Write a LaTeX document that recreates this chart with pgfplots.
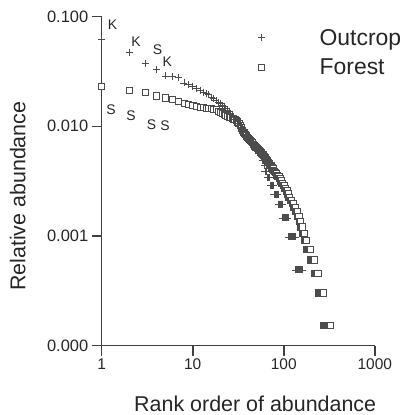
\documentclass[border=0pt]{standalone}
\usepackage{pgfplots}
\pgfplotsset{compat=1.18}
\usepackage{fontspec}
\setmainfont{Liberation Sans}
\begin{document}
\begin{tikzpicture}
\begin{axis}[
  name=main,
  scale only axis,
  width=274bp, height=330bp,
  xmode=log, ymode=log,
  xmin=1, xmax=1000, ymin=1e-4, ymax=0.1,
  axis lines*=left,
  axis line style={line width=1.6bp, black!75, -},
  xtick={1,10,100,1000}, xticklabels={1,10,100,1000},
  ytick={1e-4,1e-3,1e-2,1e-1}, yticklabels={0.000,0.001,0.010,0.100},
  minor tick length=0pt,
  tick align=outside,
  major tick length=10bp,
  tick style={line width=1.6bp, black!75},
  /pgf/number format/assume math mode=true,
  xticklabel style={font=\fontsize{15.5bp}{18bp}\selectfont, black!85},
  yticklabel style={font=\fontsize{16.5bp}{19bp}\selectfont, black!85},
  xlabel={Rank order of abundance},
  ylabel={Relative abundance},
  every axis x label/.style={at={(axis description cs:0.562,-0.177)}, anchor=center, font=\fontsize{21.5bp}{25bp}\selectfont, text=black!85},
  every axis y label/.style={at={(axis description cs:-0.307,0.454)}, rotate=90, anchor=center, font=\fontsize{21.5bp}{25bp}\selectfont, text=black!85},
  clip=false,
  reverse legend,
  legend style={draw=none, fill=none, inner sep=0pt, at={(axis description cs:0.571,0.966)}, anchor=north west,
    font=\fontsize{23bp}{27bp}\selectfont, text=black!85, row sep=10bp,
    nodes={inner sep=1bp},
    /tikz/every odd column/.append style={column sep=54bp}},
  legend cell align=left,
  legend image code/.code={\draw[#1] plot coordinates {(0bp,0bp)};},
]
\addplot[only marks, mark=square*, mark size=3.1bp, draw=black!70, fill=white, line width=0.6bp] coordinates {
(1,0.0232) (2,0.0213) (3,0.0204) (4,0.0190) (5,0.0182) (6,0.0175) (7,0.0169) (8,0.0163) (9,0.0158) (10,0.0155)
(11,0.0152) (12,0.0150) (13,0.0149) (14,0.0147) (15,0.0146) (16,0.0145) (17,0.0144) (18,0.0143) (19,0.0138) (20,0.0135)
(21,0.0132) (22,0.0129) (23,0.0126) (24,0.0124) (25,0.0121) (26,0.0120) (27,0.0118) (28,0.0116) (29,0.0115) (30,0.0113)
(31,0.0110) (32,0.0106) (33,0.0102) (34,0.0097) (35,0.0092) (36,0.0088) (37,0.0086) (38,0.0084) (39,0.0082) (40,0.0080)
(41,0.0078) (42,0.0076) (43,0.0074) (44,0.0073) (45,0.0071) (46,0.0069) (47,0.0067) (48,0.0066) (49,0.0065) (50,0.0064)
(51,0.0063) (52,0.0062) (53,0.0061) (54,0.0060) (55,0.0059) (56,0.0058) (57,0.0057) (58,0.0056) (59,0.0055) (60,0.0054)
(61,0.0053) (62,0.0052) (63,0.0051) (64,0.0050) (65,0.0049) (66,0.0048) (67,0.0047) (68,0.0047) (69,0.0046) (70,0.0045)
(71,0.0044) (72,0.0044) (73,0.0043) (74,0.0042) (75,0.0041) (76,0.0041) (77,0.0040) (78,0.0039) (79,0.0039) (80,0.0038)
(81,0.0038) (82,0.0037) (83,0.0037) (84,0.0036) (85,0.0036) (86,0.0035) (87,0.0035) (88,0.0035)
(89,0.00333) (90,0.00333) (91,0.00333) (92,0.00318) (93,0.00318) (94,0.00318) (95,0.00303) (96,0.00303) (97,0.00303)
(98,0.00288) (99,0.00288) (100,0.00288) (101,0.00288) (102,0.00273) (103,0.00273) (104,0.00273) (105,0.00273)
(106,0.00258) (107,0.00258) (108,0.00258) (109,0.00258) (110,0.00242) (111,0.00242) (112,0.00242)
(113,0.00227) (114,0.00227) (115,0.00227) (116,0.00227)
(117,0.00212) (118,0.00212) (119,0.00212) (120,0.00212) (121,0.00212) (122,0.00212)
(123,0.00197) (124,0.00197) (125,0.00197) (126,0.00197) (127,0.00197) (128,0.00197)
(129,0.00182) (130,0.00182) (131,0.00182) (132,0.00182) (133,0.00182) (134,0.00182)
(135,0.00167) (136,0.00167) (137,0.00167) (138,0.00167) (139,0.00167) (140,0.00167)
(141,0.00152) (142,0.00152) (143,0.00152) (144,0.00152) (145,0.00152) (146,0.00152)
(147,0.00136) (148,0.00136) (149,0.00136) (150,0.00136) (151,0.00136) (152,0.00136) (153,0.00136)
(154,0.00121) (155,0.00121) (156,0.00121) (157,0.00121) (158,0.00121) (159,0.00121) (160,0.00121) (161,0.00121)
(162,0.00106) (163,0.00106) (164,0.00106) (165,0.00106) (166,0.00106) (167,0.00106) (168,0.00106) (169,0.00106)
(170,0.00091) (171,0.00091) (172,0.00091) (173,0.00091) (174,0.00091) (175,0.00091) (176,0.00091) (177,0.00091)
(178,0.000758) (179,0.000758) (180,0.000758) (181,0.000758) (182,0.000758) (183,0.000758) (184,0.000758) (185,0.000758)
(186,0.000758) (187,0.000758) (188,0.000758) (189,0.000758) (190,0.000758) (191,0.000758) (192,0.000758) (193,0.000758) (194,0.000758)
(195,0.000606) (196,0.000606) (197,0.000606) (198,0.000606) (199,0.000606) (200,0.000606) (201,0.000606)
(202,0.000606) (203,0.000606) (204,0.000606) (205,0.000606) (206,0.000606) (207,0.000606) (208,0.000606) (209,0.000606)
(210,0.000606) (211,0.000606) (212,0.000606) (213,0.000606) (214,0.000606) (215,0.000606)
(216,0.000455) (217,0.000455) (218,0.000455) (219,0.000455) (220,0.000455) (221,0.000455) (222,0.000455) (223,0.000455)
(224,0.000455) (225,0.000455) (226,0.000455) (227,0.000455) (228,0.000455) (229,0.000455) (230,0.000455) (231,0.000455)
(232,0.000455) (233,0.000455) (234,0.000455) (235,0.000455) (236,0.000455) (237,0.000455)
(238,0.000303) (239,0.000303) (240,0.000303) (241,0.000303) (242,0.000303) (243,0.000303) (244,0.000303) (245,0.000303)
(246,0.000303) (247,0.000303) (248,0.000303) (249,0.000303) (250,0.000303) (251,0.000303) (252,0.000303) (253,0.000303)
(254,0.000303) (255,0.000303) (256,0.000303) (257,0.000303) (258,0.000303) (259,0.000303) (260,0.000303) (261,0.000303)
(262,0.000303) (263,0.000303) (264,0.000303) (265,0.000303) (266,0.000303) (267,0.000303) (268,0.000303) (269,0.000303)
(270,0.000152) (271,0.000152) (272,0.000152) (273,0.000152) (274,0.000152) (275,0.000152) (276,0.000152) (277,0.000152)
(278,0.000152) (279,0.000152) (280,0.000152) (281,0.000152) (282,0.000152) (283,0.000152) (284,0.000152) (285,0.000152)
(286,0.000152) (287,0.000152) (288,0.000152) (289,0.000152) (290,0.000152) (291,0.000152) (292,0.000152) (293,0.000152)
(294,0.000152) (295,0.000152) (296,0.000152) (297,0.000152) (298,0.000152) (299,0.000152) (300,0.000152)
(302,0.000152) (304,0.000152) (306,0.000152) (308,0.000152) (310,0.000152) (312,0.000152) (314,0.000152) (316,0.000152)
(318,0.000152) (320,0.000152) (322,0.000152) (324,0.000152)
};
\addlegendentry{Forest}
\addplot[only marks, mark=+, mark size=3.5bp, black!70, line width=0.6bp] coordinates {
(1,0.0626) (2,0.0472) (3,0.0377) (4,0.0328) (5,0.0288) (6,0.0283) (7,0.0278) (8,0.0249) (9,0.0240) (10,0.0232)
(11,0.0222) (12,0.0212) (13,0.0205) (14,0.0200) (15,0.0195) (16,0.0185) (17,0.0180) (18,0.0171) (19,0.0166) (20,0.0161)
(21,0.0156) (22,0.0151) (23,0.0146) (24,0.0141) (25,0.0137) (26,0.0132) (27,0.0127) (28,0.0122) (29,0.0117) (30,0.0117)
(31,0.0112) (32,0.0107) (33,0.0102) (34,0.0098) (35,0.0098) (36,0.0093) (37,0.0093) (38,0.0088) (39,0.0088) (40,0.0083)
(41,0.0083) (42,0.0078) (43,0.0078) (44,0.0078) (45,0.0073) (46,0.0073) (47,0.0068) (48,0.0068) (49,0.0068) (50,0.0063)
(51,0.0063) (52,0.0063) (53,0.0059) (54,0.0059) (55,0.0054) (56,0.0054) (57,0.0054) (58,0.0049) (59,0.0049) (60,0.0049)
(61,0.0044) (62,0.0039) (63,0.0039) (64,0.0039) (65,0.0039)
(66,0.0034) (67,0.0034) (68,0.0034) (69,0.0034) (70,0.0034)
(71,0.0029) (72,0.0029) (73,0.0029) (74,0.0029) (75,0.0029) (76,0.0029) (77,0.0029)
(78,0.0024) (79,0.0024) (80,0.0024) (81,0.0024) (82,0.0024) (83,0.0024) (84,0.0024) (85,0.0024) (86,0.0024)
(87,0.00195) (88,0.00195) (89,0.00195) (90,0.00195) (91,0.00195) (92,0.00195) (93,0.00195) (94,0.00195) (95,0.00195) (96,0.00195)
(97,0.00146) (98,0.00146) (99,0.00146) (100,0.00146) (101,0.00146) (102,0.00146) (103,0.00146) (104,0.00146) (105,0.00146) (106,0.00146) (107,0.00146) (108,0.00146) (109,0.00146) (110,0.00146) (111,0.00146)
(112,0.00098) (113,0.00098) (114,0.00098) (115,0.00098) (116,0.00098) (117,0.00098) (118,0.00098) (119,0.00098) (120,0.00098) (121,0.00098) (122,0.00098)
(123,0.00098) (124,0.00098) (125,0.00098) (126,0.00098) (127,0.00098) (128,0.00098) (129,0.00098) (130,0.00098) (131,0.00098) (132,0.00098) (133,0.00098)
(134,0.00049) (135,0.00049) (136,0.00049) (137,0.00049) (138,0.00049) (139,0.00049) (140,0.00049) (141,0.00049) (142,0.00049) (143,0.00049)
(144,0.00049) (145,0.00049) (146,0.00049) (147,0.00049) (148,0.00049) (149,0.00049) (150,0.00049) (151,0.00049) (152,0.00049) (153,0.00049)
(154,0.00049) (155,0.00049) (156,0.00049) (157,0.00049) (158,0.00049) (159,0.00049) (160,0.00049)
};
\addlegendentry{Outcrop}
\node[font=\fontsize{14bp}{16bp}\selectfont, text=black!85] at (axis cs:1.32,0.0840) {K};
\node[font=\fontsize{14bp}{16bp}\selectfont, text=black!85] at (axis cs:2.385,0.0589) {K};
\node[font=\fontsize{14bp}{16bp}\selectfont, text=black!85] at (axis cs:4.10,0.0498) {S};
\node[font=\fontsize{14bp}{16bp}\selectfont, text=black!85] at (axis cs:5.27,0.0388) {K};
\node[font=\fontsize{14bp}{16bp}\selectfont, text=black!85] at (axis cs:1.27,0.01419) {S};
\node[font=\fontsize{14bp}{16bp}\selectfont, text=black!85] at (axis cs:2.10,0.01251) {S};
\node[font=\fontsize{14bp}{16bp}\selectfont, text=black!85] at (axis cs:3.52,0.01026) {S};
\node[font=\fontsize{14bp}{16bp}\selectfont, text=black!85] at (axis cs:4.95,0.01015) {S};
\end{axis}
\path ([xshift=-102bp,yshift=-68.3bp]main.south west) rectangle ++(401bp,415bp);
\end{tikzpicture}
\end{document}
